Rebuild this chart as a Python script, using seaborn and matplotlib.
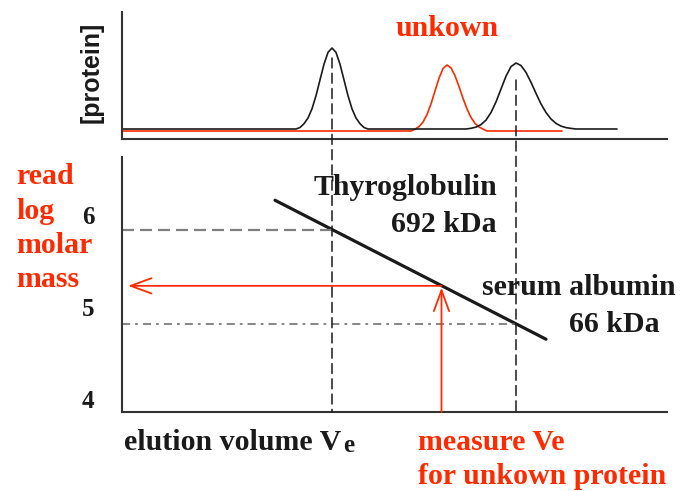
import matplotlib
matplotlib.use("Agg")
import matplotlib.pyplot as plt
from matplotlib.patches import ConnectionPatch
import pandas as pd
import seaborn as sns

# ---- data -------------------------------------------------------------
# elution volume in arbitrary units (0 = start of the run)
# chromatogram of the two protein standards (one black trace)
std_trace_ve = [0.0, 17.4, 17.8, 18.2, 18.6, 19.0, 19.4, 19.8, 20.2, 20.6, 21.0,
                21.4, 21.8, 22.2, 22.6, 23.0, 23.4, 23.8, 24.2, 24.6,
                34.4, 34.9, 35.4, 35.9, 36.4, 36.9, 37.4, 37.9, 38.4, 38.9, 39.4,
                39.9, 40.4, 40.9, 41.4, 41.9, 42.4, 42.9, 43.4, 43.9, 44.4, 44.9, 45.4,
                49.5]
std_trace_conc = [1.0, 1.0, 1.15, 1.53, 2.10, 3.02, 4.33, 5.91, 7.48, 8.66, 9.1,
                  8.66, 7.48, 5.91, 4.33, 3.02, 2.10, 1.53, 1.15, 1.0,
                  1.0, 1.07, 1.19, 1.44, 1.89, 2.65, 3.71, 5.0, 6.28, 7.24, 7.6,
                  7.35, 6.66, 5.67, 4.56, 3.51, 2.65, 2.0, 1.56, 1.29, 1.14, 1.06, 1.0,
                  1.0]
# chromatogram of the unknown protein (red trace)
unk_trace_ve = [0.0, 28.9, 29.3, 29.7, 30.1, 30.5, 30.9, 31.3, 31.7, 32.1, 32.5,
                32.9, 33.3, 33.7, 34.1, 34.5, 34.9, 35.3, 35.7, 36.1, 36.5, 44.0]
unk_trace_conc = [0.8, 0.8, 0.98, 1.24, 1.69, 2.44, 3.51, 4.8, 6.08, 7.04, 7.4,
                  7.12, 6.33, 5.25, 4.07, 3.0, 2.16, 1.57, 1.2, 0.99, 0.8, 0.8]

# standards: elution volume and log10 of molar mass (g/mol)
standard_names = ["Thyroglobulin", "serum albumin"]
standard_mass = ["692 kDa", "66 kDa"]
standard_ve = [21.0, 39.4]
standard_logm = [5.84, 4.82]
standard_peak_conc = [8.1, 5.9]

# calibration line (log M versus Ve)
calib_ve = [15.3, 42.4]
calib_logm = [6.16, 4.65]

# unknown protein read-off
unknown_ve = 31.95
unknown_logm = 5.23

logm_ticks = [4, 5, 6]
logm_ticklabels = ["4", "5", "6"]

# ---- styling ----------------------------------------------------------
sns.set_theme(style="white")
plt.rcParams["font.family"] = ["Liberation Serif", "DejaVu Serif"]
plt.rcParams["font.weight"] = "bold"

RED = "#ff2a00"
INK = "#1a1a1a"
SPINE = "#333333"
W, H = 686, 491


def fx(px):
    return px / W


def fy(py):
    return 1 - py / H


fig = plt.figure(figsize=(W / 100, H / 100), dpi=100)
ax_top = fig.add_axes([fx(122), fy(139), fx(667) - fx(122), fy(12) - fy(139)])
ax_bot = fig.add_axes([fx(122), fy(412), fx(667) - fx(122), fy(157) - fy(412)])

for ax in (ax_top, ax_bot):
    ax.set_xlim(0, 54.5)
    for side in ("top", "right"):
        ax.spines[side].set_visible(False)
    for side in ("left", "bottom"):
        ax.spines[side].set_color(SPINE)
        ax.spines[side].set_linewidth(1.5)
    ax.set_xticks([])
    ax.set_xlabel("")
    ax.set_ylabel("")

# ---- chromatogram -----------------------------------------------------
std_df = pd.DataFrame({"ve": std_trace_ve, "conc": std_trace_conc})
unk_df = pd.DataFrame({"ve": unk_trace_ve, "conc": unk_trace_conc})
sns.lineplot(data=unk_df, x="ve", y="conc", ax=ax_top, color=RED, lw=1.2,
             sort=False, estimator=None)
sns.lineplot(data=std_df, x="ve", y="conc", ax=ax_top, color=INK, lw=1.2,
             sort=False, estimator=None)
ax_top.set_ylim(0, 12.7)
ax_top.set_yticks([])
ax_top.set_xlabel("")
ax_top.set_ylabel("")
ax_top.text(32.5, 10.3, "unkown", color=RED, fontsize=21.5, ha="center",
            va="baseline", fontweight="bold")

# ---- calibration plot -------------------------------------------------
ax_bot.set_ylim(3.859, 6.63)
ax_bot.set_yticks(logm_ticks)
ax_bot.set_yticklabels(logm_ticklabels, fontsize=18, fontweight="bold", color=INK)
ax_bot.tick_params(axis="y", length=0, pad=20)

calib_df = pd.DataFrame({"ve": calib_ve, "logm": calib_logm})
sns.lineplot(data=calib_df, x="ve", y="logm", ax=ax_bot, color=INK, lw=2.3,
             estimator=None)
ax_bot.set_xlabel("")
ax_bot.set_ylabel("")

# read-off lines for the standards
ax_bot.plot([0, standard_ve[0]], [standard_logm[0]] * 2, color="#808080", lw=1.6,
            dashes=(5.4, 2.7), solid_capstyle="butt")
ax_bot.plot([0, standard_ve[1]], [standard_logm[1]] * 2, color="#666666", lw=1.1,
            dashes=(5.3, 3.3, 1.8, 3.3))

# peak maxima dropped onto the volume axis
for ve, pc in zip(standard_ve, standard_peak_conc):
    con = ConnectionPatch(xyA=(ve, pc), coordsA=ax_top.transData,
                          xyB=(ve, ax_bot.get_ylim()[0]), coordsB=ax_bot.transData,
                          color=INK, lw=1.1, linestyle=(0, (6.5, 3.5)))
    fig.add_artist(con)

# unknown: measure Ve, read log M
arrow_kw = dict(arrowstyle="->,head_length=1.5,head_width=0.55", color=RED, lw=1.3,
                shrinkA=0, shrinkB=0, mutation_scale=10)
ax_bot.annotate("", xy=(unknown_ve, unknown_logm - 0.02),
                xytext=(unknown_ve, ax_bot.get_ylim()[0]), arrowprops=arrow_kw)
ax_bot.annotate("", xy=(0.6, unknown_logm), xytext=(unknown_ve, unknown_logm),
                arrowprops=arrow_kw)

# standard labels
ax_bot.text(37.5, 6.217, standard_names[0], fontsize=21.5, ha="right",
            va="baseline", color=INK)
ax_bot.text(37.5, 5.815, standard_mass[0], fontsize=21.5, ha="right",
            va="baseline", color=INK)
ax_bot.text(36.0, 5.13, standard_names[1], fontsize=21.5, ha="left",
            va="baseline", color=INK)
ax_bot.text(53.8, 4.728, standard_mass[1], fontsize=21.5, ha="right",
            va="baseline", color=INK)

# ---- figure texts -----------------------------------------------------
fig.text(fx(92), fy(72), "[protein]", rotation=90, ha="center", va="center",
         fontsize=18, fontweight="bold", color=INK,
         family=["Liberation Sans", "DejaVu Sans"])

for word, py in zip(["read", "log", "molar", "mass"], [184, 219, 253, 287]):
    fig.text(fx(16), fy(py), word, color=RED, fontsize=21.5, ha="left",
             va="baseline")

xlab = fig.text(fx(124), fy(450), "elution volume V", color=INK, fontsize=21.5,
                ha="left", va="baseline")
ax_bot.annotate("e", xy=(1, 0), xycoords=xlab, xytext=(1.5, 3),
                textcoords="offset points", fontsize=18, ha="left", va="baseline",
                color=INK, fontweight="bold")

fig.text(fx(418), fy(450), "measure Ve", color=RED, fontsize=21.5, ha="left",
         va="baseline")
fig.text(fx(418), fy(484), "for unkown protein", color=RED, fontsize=21.5,
         ha="left", va="baseline")

fig.savefig("out.png", dpi=100)
